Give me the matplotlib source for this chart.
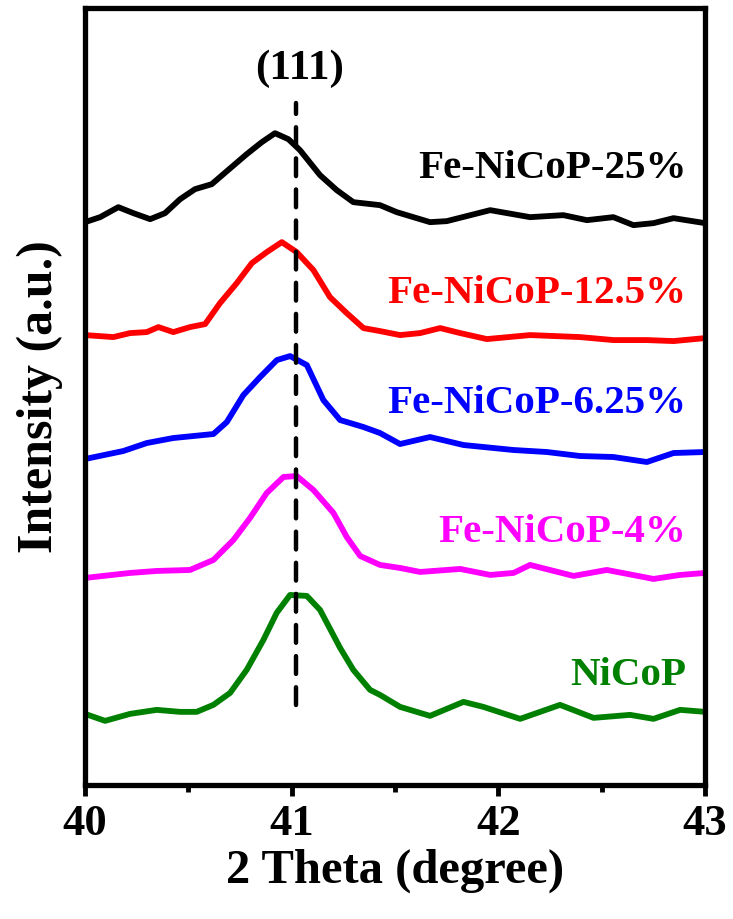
#-------------------------------------------------------
#   XRD patterns around the (111) peak, Fe-doped NiCoP
#-------------------------------------------------------
import numpy as np
import matplotlib
matplotlib.use('Agg')
import matplotlib.pyplot as plt
from matplotlib.ticker import MultipleLocator
#
plt.rcParams['font.family'] = ['Liberation Serif', 'DejaVu Serif']
plt.rcParams['font.weight'] = 'bold'
#----- 2 Theta / intensity (offset, a.u.)
tt_25 = [40.0, 40.073, 40.161, 40.234, 40.315, 40.387, 40.46, 40.532, 40.613, 40.686,
         40.782, 40.855, 40.919, 40.984, 41.04, 41.137, 41.218, 41.298, 41.427, 41.508,
         41.669, 41.75, 41.96, 42.153, 42.314, 42.428, 42.556, 42.653, 42.75, 42.847, 43.0]
I_25 = [578, 583, 593, 587, 581, 587, 601, 611, 616, 629,
        646, 658, 667, 661, 650, 625, 610, 598, 595, 588,
        578, 579, 590, 583, 585, 580, 583, 575, 577, 582, 577]
#
tt_125 = [40.0, 40.137, 40.218, 40.299, 40.355, 40.427, 40.508, 40.581, 40.653, 40.734,
          40.807, 40.879, 40.952, 41.024, 41.105, 41.185, 41.266, 41.347, 41.427, 41.524,
          41.621, 41.718, 41.815, 41.944, 42.153, 42.395, 42.556, 42.718, 42.847, 43.0]
I_125 = [465, 463, 467, 468, 473, 468, 473, 476, 497, 517,
         537, 548, 558, 548, 530, 503, 487, 472, 469, 465,
         467, 472, 467, 461, 465, 463, 460, 460, 459, 462]
#
tt_625 = [40.0, 40.185, 40.299, 40.427, 40.621, 40.686, 40.766, 40.847, 40.928, 40.992,
          41.073, 41.153, 41.234, 41.347, 41.427, 41.524, 41.669, 41.831, 42.073, 42.234,
          42.395, 42.556, 42.718, 42.847, 43.0]
I_625 = [341, 349, 357, 362, 366, 378, 405, 423, 440, 444,
         435, 400, 380, 373, 367, 356, 363, 355, 350, 348,
         344, 343, 338, 347, 348]
#
tt_4 = [40.0, 40.218, 40.347, 40.508, 40.621, 40.718, 40.798, 40.879, 40.96, 41.024,
        41.105, 41.202, 41.266, 41.331, 41.427, 41.524, 41.621, 41.815, 41.96, 42.073,
        42.153, 42.363, 42.524, 42.75, 42.879, 43.0]
I_4 = [222, 227, 229, 230, 240, 260, 282, 307, 323, 324,
       310, 287, 263, 244, 235, 232, 228, 231, 225, 227,
       235, 224, 230, 221, 225, 227]
#
tt_0 = [40.0, 40.097, 40.218, 40.347, 40.46, 40.54, 40.621, 40.702, 40.782, 40.863,
        40.927, 40.992, 41.073, 41.137, 41.234, 41.298, 41.379, 41.427, 41.524, 41.669,
        41.831, 41.927, 42.105, 42.298, 42.46, 42.637, 42.75, 42.879, 43.0]
I_0 = [86, 79, 86, 90, 88, 88, 95, 107, 130, 160,
       187, 205, 204, 190, 152, 130, 110, 105, 93, 84,
       98, 93, 81, 95, 82, 85, 81, 90, 88]
#
names = ['Fe-NiCoP-25%', 'Fe-NiCoP-12.5%', 'Fe-NiCoP-6.25%', 'Fe-NiCoP-4%', 'NiCoP']
colors = ['k', '#ff0000', '#0000ff', '#ff00ff', '#008000']
label_y = [622, 497, 387, 258, 115]
peak_111 = 41.02
#----- 繪圖
fig = plt.figure(figsize=(7.33, 9.19), dpi=100)
ax = fig.add_axes([0.116, 0.146, 0.846, 0.845])
#
series = [(tt_25, I_25), (tt_125, I_125), (tt_625, I_625), (tt_4, I_4), (tt_0, I_0)]
for (tt, I), c, name, ly in zip(series, colors, names, label_y):
    ax.plot(tt, I, '-', color=c, lw=4.2, solid_joinstyle='round')
    ax.text(42.91, ly, name, color=c, fontsize=29.5, fontweight='bold',
            ha='right', va='baseline')
#
ax.plot([peak_111, peak_111], [95, 697], color='k', lw=3.2,
        linestyle=(0, (4, 3)), dash_capstyle='round')
ax.text(peak_111 + 0.02, 721, '(111)', fontsize=31, fontweight='bold',
        ha='center', va='baseline')
#
ax.set_xlim(40, 43)
ax.set_ylim(15, 792)
ax.set_xticks([40, 41, 42, 43])
ax.xaxis.set_minor_locator(MultipleLocator(0.5))
ax.set_yticks([])
ax.tick_params(axis='x', which='major', direction='out', length=8, width=3.5,
               labelsize=32, pad=6)
ax.tick_params(axis='x', which='minor', direction='out', length=5, width=3.5)
for lab in ax.get_xticklabels():
    lab.set_fontweight('bold')
for sp in ax.spines.values():
    sp.set_linewidth(3.8)
#
ax.set_xlabel('2 Theta (degree)', fontsize=35, fontweight='bold', labelpad=3)
ax.set_ylabel('Intensity (a.u.)', fontsize=36, fontweight='bold', labelpad=16)
#
plt.savefig('out.png', dpi=100)
